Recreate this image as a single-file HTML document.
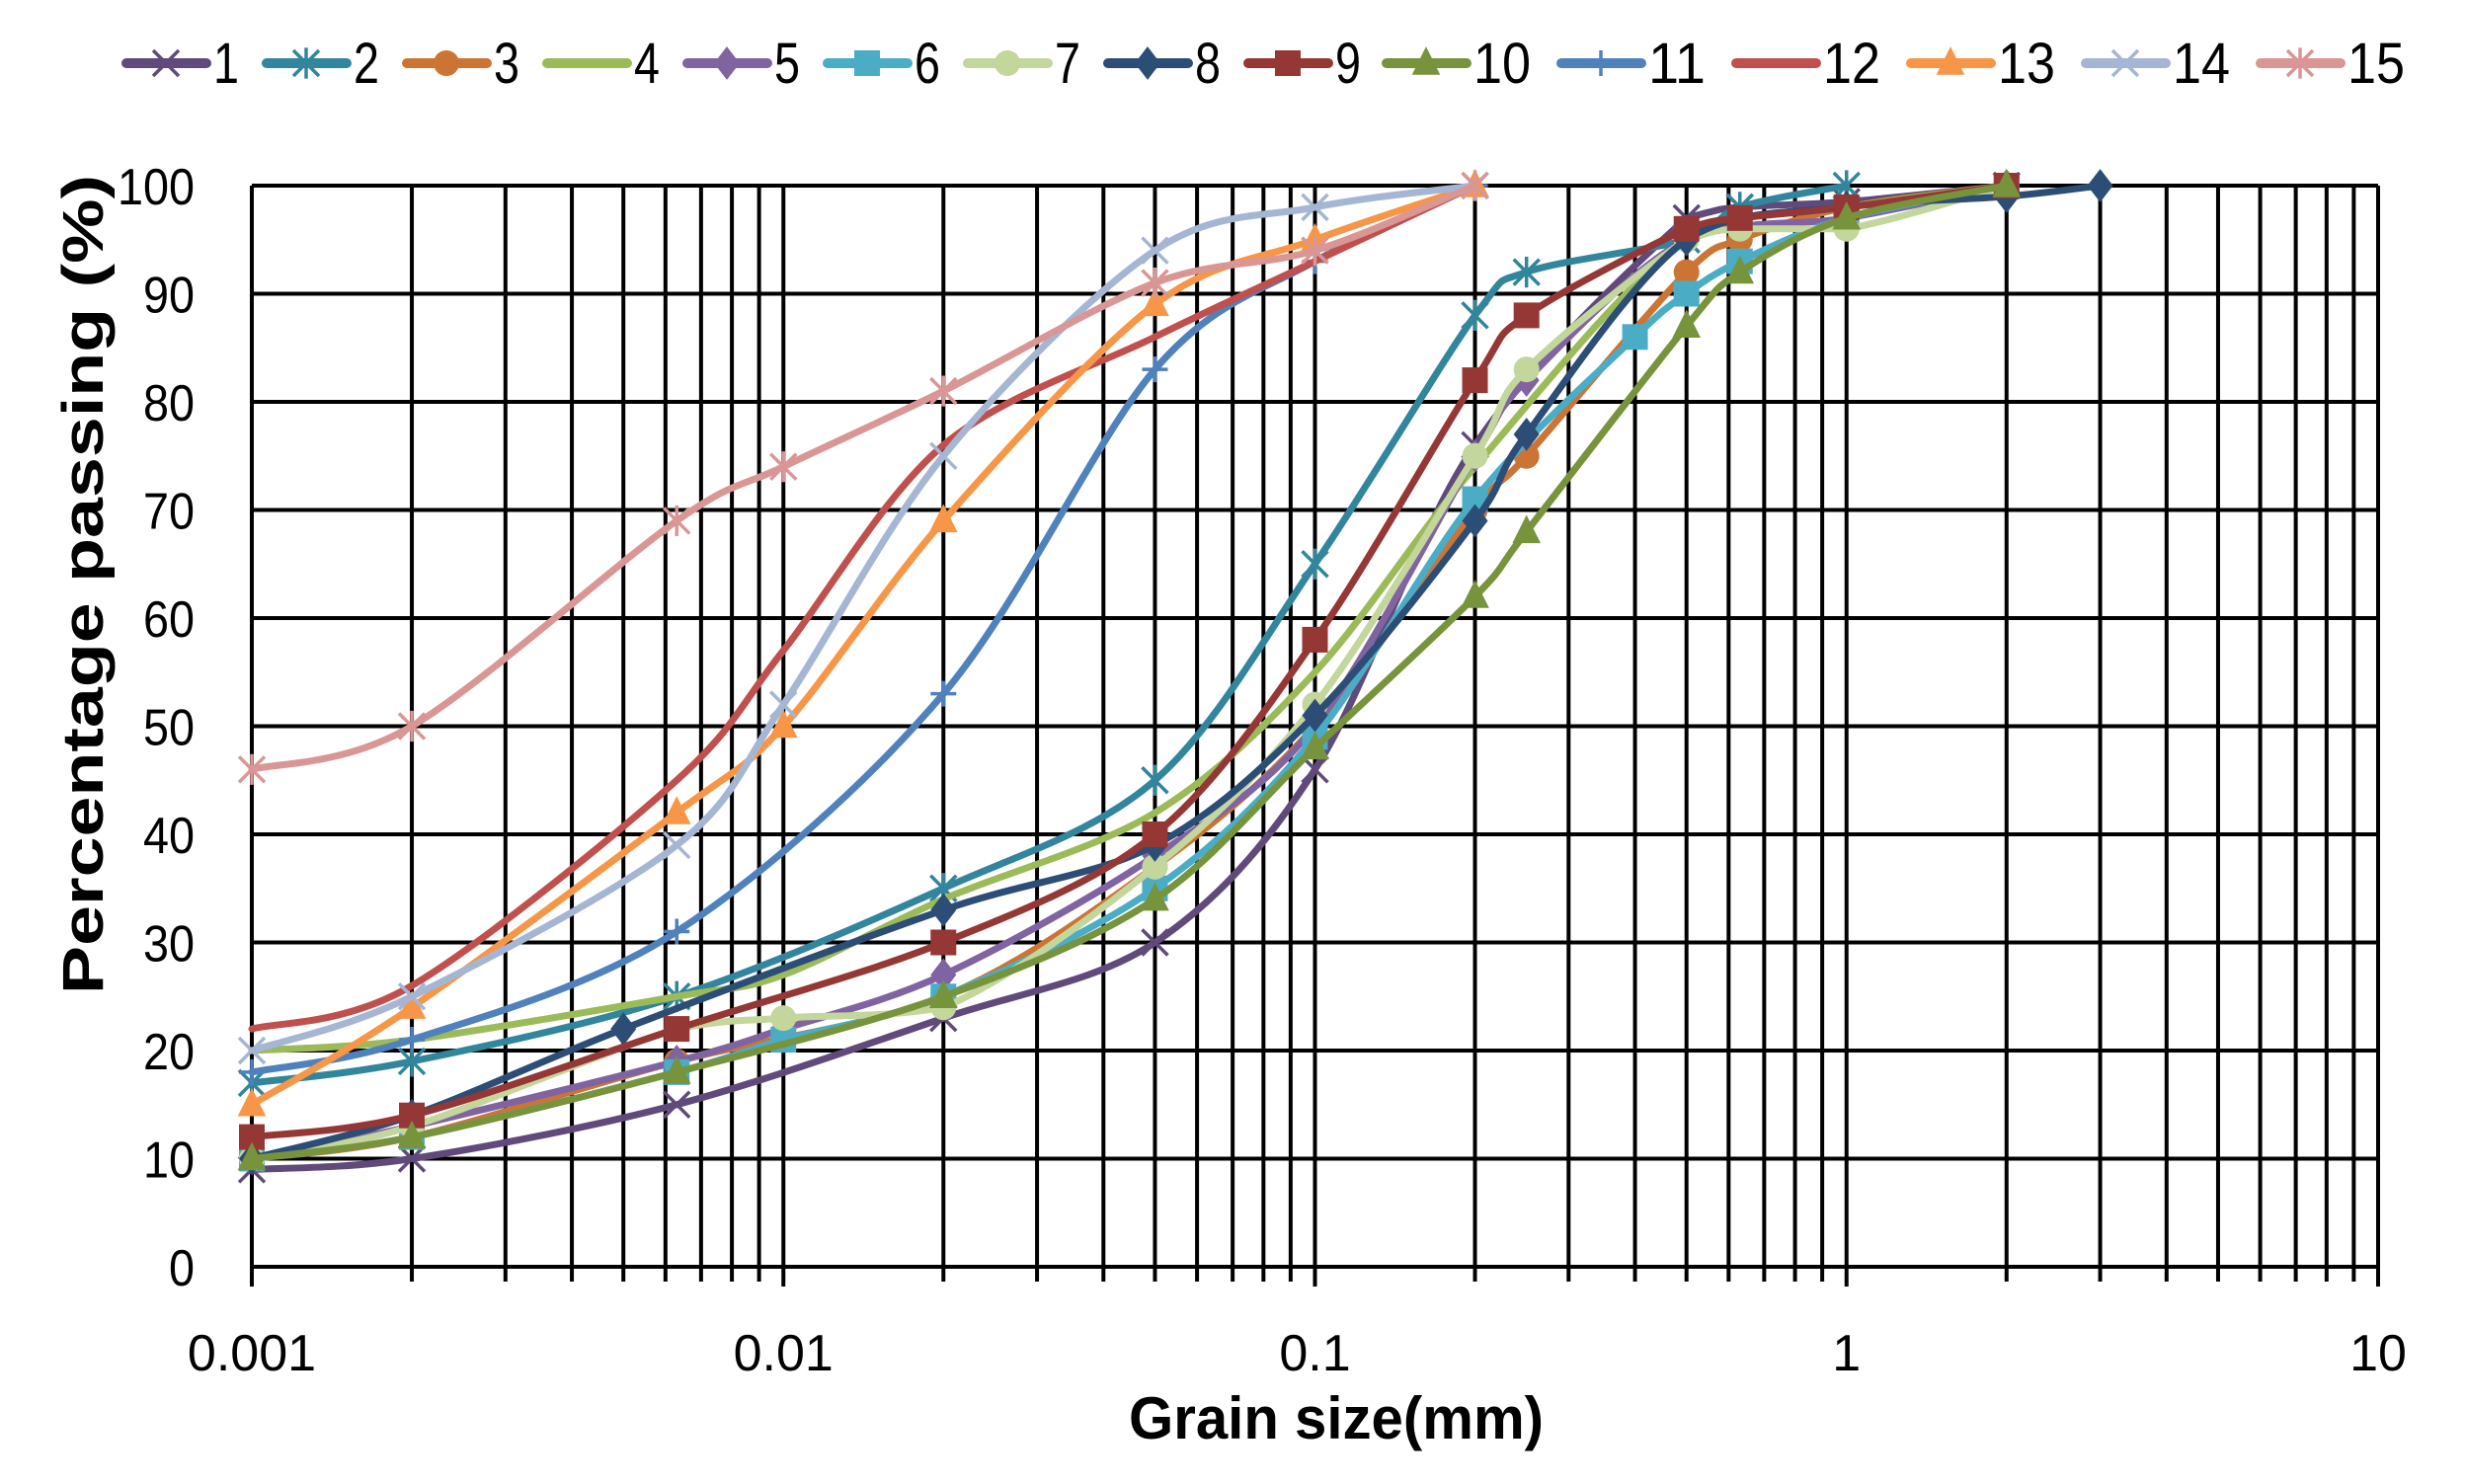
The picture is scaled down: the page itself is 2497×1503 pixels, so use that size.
<!DOCTYPE html>
<html><head><meta charset="utf-8"><style>
html,body{margin:0;padding:0;background:#fff;}
svg{display:block;}
</style></head><body>
<svg id="c" width="2497" height="1503" xmlns="http://www.w3.org/2000/svg" font-family="Liberation Sans, sans-serif"></svg>
<script>
const svg=document.getElementById('c');
const NS='http://www.w3.org/2000/svg';
function el(t,a,txt){const e=document.createElementNS(NS,t);for(const k in a)e.setAttribute(k,a[k]);if(txt!==undefined)e.textContent=txt;svg.appendChild(e);return e;}
const X0=255,X1=2408,Y0=1283,YT=188;
const DW=(X1-X0)/4;
const xp=v=>X0+(Math.log10(v)+3)*DW;
const yp=v=>Y0-(v/100)*(Y0-YT);
let g='';
for(let d=-3;d<1;d++){for(let m=1;m<10;m++){const x=xp(m*Math.pow(10,d));g+=`M${x} ${YT}V${Y0+(m==1?20:15)}`;}}
g+=`M${X1} ${YT}V${Y0+20}`;
for(let i=0;i<=10;i++){const y=yp(i*10);g+=`M${X0} ${y}H${X1}`;}
el('path',{d:g,stroke:'#000','stroke-width':4,fill:'none'});
for(let i=0;i<=10;i++){el('text',{x:197,y:yp(i*10)+19,'text-anchor':'end','font-size':52,textLength:i==10?78:(i==0?26:52),lengthAdjust:'spacingAndGlyphs'},String(i*10));}
['0.001','0.01','0.1','1','10'].forEach((t,i)=>el('text',{x:X0+i*DW,y:1388,'text-anchor':'middle','font-size':52},t));
el('text',{x:1353,y:1457,'text-anchor':'middle','font-size':60,'font-weight':'bold',textLength:420,lengthAdjust:'spacingAndGlyphs'},'Grain size(mm)');
el('text',{x:0,y:0,'text-anchor':'middle','font-size':58,'font-weight':'bold',transform:'translate(104,592) rotate(-90)',textLength:830,lengthAdjust:'spacingAndGlyphs'},'Percentage passing (%)');
const S=[
['#604A7B','x',[[.001,9],[.002,10],[.0063,15],[.02,23],[.05,30],[.1,46],[.2,76],[.5,97],[.63,98],[1,98.5],[2,100]]],
['#31859C','ast',[[.001,17],[.002,19],[.0063,25],[.02,35],[.05,45],[.1,65],[.2,88],[.25,92],[.5,95],[.63,98],[1,100]]],
['#CC7433','circ',[[.001,10],[.002,12],[.0063,19],[.02,25],[.05,37],[.1,50],[.2,70],[.25,75],[.5,92],[.63,95],[1,98],[2,100]]],
['#9BBB59','none',[[.001,20],[.002,21],[.0063,25],[.01,27],[.02,34],[.05,42],[.1,55],[.2,74],[.5,95],[1,98],[2,100]]],
['#8064A2','dia',[[.001,10],[.002,13],[.0063,19],[.01,22],[.02,27],[.05,38],[.1,50],[.2,75],[.25,82],[.5,95],[1,97],[2,100]]],
['#4BACC6','sq',[[.001,10],[.002,12],[.0063,18],[.01,21],[.02,25],[.05,35],[.1,49],[.2,71],[.4,86],[.5,90],[.63,93],[1,97],[2,100]]],
['#C3D69B','circ',[[.001,10],[.002,13],[.0063,22],[.01,23],[.02,24],[.05,37],[.1,52],[.2,75],[.25,83],[.5,95],[.63,96],[1,96],[2,100]]],
['#2C4D75','dia',[[.001,10],[.002,14],[.005,22],[.02,33],[.05,39],[.1,51],[.2,69],[.25,77],[.5,95],[1,98],[2,99],[3,100]]],
['#953735','sq',[[.001,12],[.002,14],[.0063,22],[.02,30],[.05,40],[.1,58],[.2,82],[.25,88],[.5,96],[.63,97],[1,98],[2,100]]],
['#77933C','tri',[[.001,10],[.002,12],[.0063,18],[.02,25],[.05,34],[.1,48],[.2,62],[.25,68],[.5,87],[.63,92],[1,97],[2,100]]],
['#4F81BD','plus',[[.001,18],[.002,21],[.0063,31],[.02,53],[.05,83],[.1,93],[.2,100]]],
['#C0504D','none',[[.001,22],[.002,26],[.0063,45],[.01,57],[.02,76],[.05,86],[.1,93],[.2,100]]],
['#F79646','tri',[[.001,15],[.002,24],[.0063,42],[.01,50],[.02,69],[.05,89],[.1,95],[.2,100]]],
['#A5B6D4','x',[[.001,20],[.002,25],[.0063,39],[.01,52],[.02,75],[.05,94],[.1,98],[.2,100]]],
['#D99694','ast',[[.001,46],[.002,50],[.0063,69],[.01,74],[.02,81],[.05,91],[.1,94],[.2,100]]]
];
function spline(p){let d=`M${p[0][0]} ${p[0][1]}`;const t=0.16;
for(let i=0;i<p.length-1;i++){const a=p[Math.max(i-1,0)],b=p[i],c=p[i+1],e=p[Math.min(i+2,p.length-1)];
let c1=[b[0]+(c[0]-a[0])*t,b[1]+(c[1]-a[1])*t],c2=[c[0]-(e[0]-b[0])*t,c[1]-(e[1]-b[1])*t];
const lo=Math.min(b[1],c[1]),hi=Math.max(b[1],c[1]);c1[1]=Math.min(Math.max(c1[1],lo),hi);c2[1]=Math.min(Math.max(c2[1],lo),hi);
d+=`C${c1[0]} ${c1[1]} ${c2[0]} ${c2[1]} ${c[0]} ${c[1]}`;}return d;}
function marker(type,x,y,col,s){s=s||12;
if(type=='none')return;
if(type=='x')el('path',{d:`M${x-s} ${y-s}L${x+s} ${y+s}M${x-s} ${y+s}L${x+s} ${y-s}`,stroke:col,'stroke-width':3.5,fill:'none'});
if(type=='ast')el('path',{d:`M${x-s} ${y-s}L${x+s} ${y+s}M${x-s} ${y+s}L${x+s} ${y-s}M${x} ${y-s*1.2}V${y+s*1.2}`,stroke:col,'stroke-width':3.5,fill:'none'});
if(type=='plus')el('path',{d:`M${x-s} ${y}H${x+s}M${x} ${y-s}V${y+s}`,stroke:col,'stroke-width':3.5,fill:'none'});
if(type=='circ')el('circle',{cx:x,cy:y,r:s,fill:col});
if(type=='sq')el('rect',{x:x-s,y:y-s,width:2*s,height:2*s,fill:col});
if(type=='dia')el('path',{d:`M${x} ${y-s*1.3}L${x+s} ${y}L${x} ${y+s*1.3}L${x-s} ${y}Z`,fill:col});
if(type=='tri')el('path',{d:`M${x} ${y-s*1.3}L${x+s*1.1} ${y+s*0.9}L${x-s*1.1} ${y+s*0.9}Z`,fill:col});
}
S.forEach(([col,m,data])=>{const p=data.map(([a,b])=>[xp(a),yp(b)]);
el('path',{d:spline(p),stroke:col,'stroke-width':7,fill:'none','stroke-linejoin':'round','stroke-linecap':'round'});
p.forEach(([x,y])=>marker(m,x,y,col,13));});
S.forEach(([col,m],i)=>{let x;if(i<9)x=128+142*i;else x=1404+177*(i-9);
el('line',{x1:x,y1:64,x2:x+81,y2:64,stroke:col,'stroke-width':10,'stroke-linecap':'round'});
marker(m,x+40,64,col,13);
el('text',{x:x+88,y:84,'font-size':58,textLength:i<9?26:58,lengthAdjust:'spacingAndGlyphs'},String(i+1));});
</script>
</body></html>
